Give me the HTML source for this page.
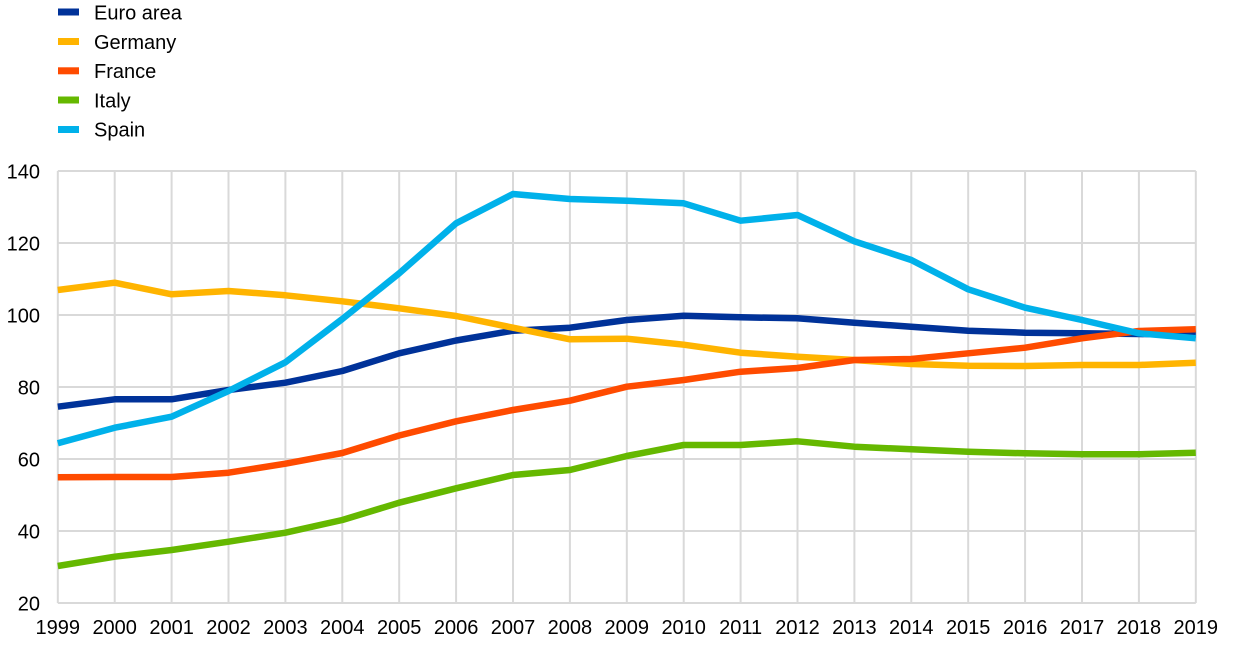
<!DOCTYPE html>
<html>
<head>
<meta charset="utf-8">
<style>
html,body{margin:0;padding:0;background:#fff;}
svg{display:block;}
text{font-family:"Liberation Sans",Arial,sans-serif;font-size:20px;fill:#000;}
</style>
</head>
<body>
<svg width="1240" height="648" viewBox="0 0 1240 648" xmlns="http://www.w3.org/2000/svg">
<g stroke="#d9d9d9" stroke-width="2" fill="none">
<line x1="57.8" y1="171" x2="1195.8" y2="171"/>
<line x1="57.8" y1="243" x2="1195.8" y2="243"/>
<line x1="57.8" y1="315" x2="1195.8" y2="315"/>
<line x1="57.8" y1="387" x2="1195.8" y2="387"/>
<line x1="57.8" y1="459" x2="1195.8" y2="459"/>
<line x1="57.8" y1="531" x2="1195.8" y2="531"/>
<line x1="57.8" y1="603" x2="1195.8" y2="603"/>
<line x1="57.8" y1="171" x2="57.8" y2="603"/>
<line x1="114.7" y1="171" x2="114.7" y2="603"/>
<line x1="171.6" y1="171" x2="171.6" y2="603"/>
<line x1="228.5" y1="171" x2="228.5" y2="603"/>
<line x1="285.4" y1="171" x2="285.4" y2="603"/>
<line x1="342.3" y1="171" x2="342.3" y2="603"/>
<line x1="399.2" y1="171" x2="399.2" y2="603"/>
<line x1="456.1" y1="171" x2="456.1" y2="603"/>
<line x1="513" y1="171" x2="513" y2="603"/>
<line x1="569.9" y1="171" x2="569.9" y2="603"/>
<line x1="626.8" y1="171" x2="626.8" y2="603"/>
<line x1="683.7" y1="171" x2="683.7" y2="603"/>
<line x1="740.6" y1="171" x2="740.6" y2="603"/>
<line x1="797.5" y1="171" x2="797.5" y2="603"/>
<line x1="854.4" y1="171" x2="854.4" y2="603"/>
<line x1="911.3" y1="171" x2="911.3" y2="603"/>
<line x1="968.2" y1="171" x2="968.2" y2="603"/>
<line x1="1025.1" y1="171" x2="1025.1" y2="603"/>
<line x1="1082" y1="171" x2="1082" y2="603"/>
<line x1="1138.9" y1="171" x2="1138.9" y2="603"/>
<line x1="1195.8" y1="171" x2="1195.8" y2="603"/>
</g>

<g fill="none" stroke-width="6.5" stroke-linejoin="round" stroke-linecap="butt">
<polyline stroke="#003299" points="57.8,406.7 114.7,399.3 171.6,399.3 228.5,390 285.4,382.7 342.3,371 399.2,353.3 456.1,340.5 513,330.7 569.9,327.7 626.8,320 683.7,315.7 740.6,317.3 797.5,318.3 854.4,322.7 911.3,326.7 968.2,330.7 1025.1,332.7 1082,333.3 1138.9,334 1195.8,334.8"/>
<polyline stroke="#ffb400" points="57.8,290 114.7,282.7 171.6,294.3 228.5,291 285.4,295.3 342.3,301.3 399.2,308.3 456.1,316 513,327.7 569.9,339.3 626.8,338.7 683.7,344.7 740.6,352.7 797.5,356.7 854.4,360 911.3,364 968.2,365.7 1025.1,366 1082,365 1138.9,365 1195.8,362.7"/>
<polyline stroke="#ff4b00" points="57.8,477.3 114.7,477 171.6,477 228.5,472.7 285.4,463.7 342.3,453 399.2,435.5 456.1,421.3 513,410 569.9,400.7 626.8,386.7 683.7,380 740.6,371.7 797.5,368 854.4,360 911.3,359 968.2,353.3 1025.1,347.7 1082,338.3 1138.9,331 1195.8,329.3"/>
<polyline stroke="#65b800" points="57.8,566 114.7,556.7 171.6,550 228.5,541.7 285.4,532.7 342.3,520 399.2,502.7 456.1,488.3 513,475 569.9,470 626.8,456 683.7,445 740.6,445 797.5,441.3 854.4,446.7 911.3,449.3 968.2,451.7 1025.1,453.3 1082,454.3 1138.9,454.3 1195.8,452.7"/>
<polyline stroke="#00b1ea" points="57.8,443.3 114.7,427.7 171.6,416.7 228.5,391 285.4,362.3 342.3,319 399.2,273.3 456.1,223.3 513,194 569.9,199 626.8,200.7 683.7,203.3 740.6,220.7 797.5,215 854.4,241.3 911.3,260 968.2,289.3 1025.1,307.7 1082,320 1138.9,333.3 1195.8,338.3"/>
</g>

<!-- legend -->
<rect x="58" y="8.5" width="21" height="7" fill="#003299"/>
<rect x="58" y="38" width="21" height="7" fill="#ffb400"/>
<rect x="58" y="67.3" width="21" height="7" fill="#ff4b00"/>
<rect x="58" y="96.5" width="21" height="7" fill="#65b800"/>
<rect x="58" y="126" width="21" height="7" fill="#00b1ea"/>
<text x="94" y="19.5">Euro area</text>
<text x="94" y="48.8">Germany</text>
<text x="94" y="78.1">France</text>
<text x="94" y="107.4">Italy</text>
<text x="94" y="136.7">Spain</text>

<!-- y labels -->
<g text-anchor="end">
<text x="40" y="178.5">140</text>
<text x="40" y="250.5">120</text>
<text x="40" y="322.5">100</text>
<text x="40" y="394.5">80</text>
<text x="40" y="466.5">60</text>
<text x="40" y="538.5">40</text>
<text x="40" y="610.5">20</text>
</g>

<!-- x labels -->
<g text-anchor="middle">
<text x="57.8" y="634">1999</text>
<text x="114.7" y="634">2000</text>
<text x="171.6" y="634">2001</text>
<text x="228.5" y="634">2002</text>
<text x="285.4" y="634">2003</text>
<text x="342.3" y="634">2004</text>
<text x="399.2" y="634">2005</text>
<text x="456.1" y="634">2006</text>
<text x="513" y="634">2007</text>
<text x="569.9" y="634">2008</text>
<text x="626.8" y="634">2009</text>
<text x="683.7" y="634">2010</text>
<text x="740.6" y="634">2011</text>
<text x="797.5" y="634">2012</text>
<text x="854.4" y="634">2013</text>
<text x="911.3" y="634">2014</text>
<text x="968.2" y="634">2015</text>
<text x="1025.1" y="634">2016</text>
<text x="1082" y="634">2017</text>
<text x="1138.9" y="634">2018</text>
<text x="1195.8" y="634">2019</text>
</g>
</svg>
</body>
</html>
